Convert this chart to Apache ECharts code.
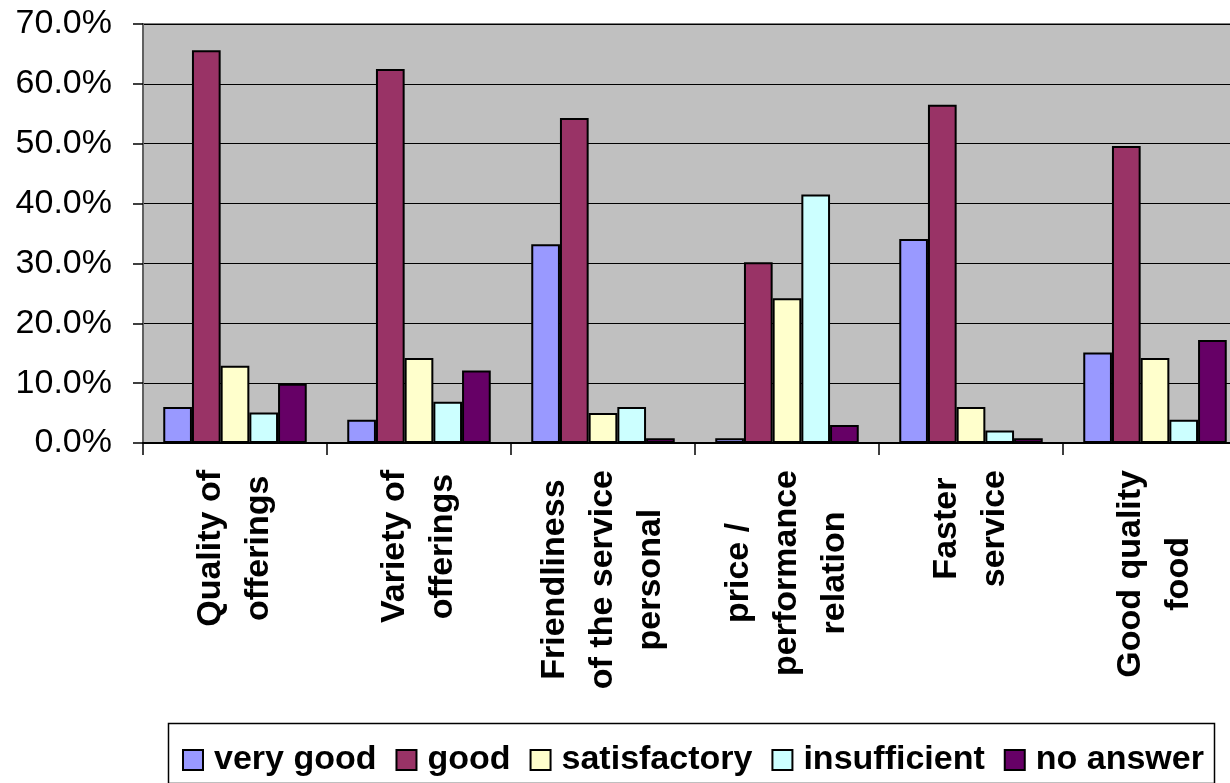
<!DOCTYPE html>
<html>
<head>
<meta charset="utf-8">
<title>Ratings by aspect</title>
<script src="https://cdn.jsdelivr.net/npm/echarts@6/dist/echarts.min.js"></script>
<style>
  html, body { margin: 0; padding: 0; background: #fff; }
  #chart { width: 1230px; height: 783px; }
</style>
</head>
<body>
<div id="chart"></div>
<script>
// Survey aspects (x axis)
const categories = [
  'Quality of\nofferings',
  'Variety of\nofferings',
  'Friendliness\nof the service\npersonal',
  'price /\nperformance\nrelation',
  'Faster\nservice',
  'Good quality\nfood'
];

// Share of answers per rating, in percent
const veryGood     = [6.0, 3.9, 33.2, 0.8, 34.1, 15.1];
const good         = [65.6, 62.5, 54.3, 30.2, 56.5, 49.6];
const satisfactory = [12.9, 14.2, 5.0, 24.2, 6.0, 14.2];
const insufficient = [5.1, 6.9, 6.0, 41.5, 2.1, 3.9];
const noAnswer     = [9.9, 12.1, 0.8, 3.0, 0.8, 17.2];

const seriesNames  = ['very good', 'good', 'satisfactory', 'insufficient', 'no answer'];
const seriesValues = [veryGood, good, satisfactory, insufficient, noAnswer];
const seriesColors = ['#9999FF', '#993366', '#FFFFCC', '#CCFFFF', '#660066'];

// Value axis range
const yMin = 0, yMax = 70, yStep = 10;

const FONT = '"Liberation Sans", Arial, Helvetica, sans-serif';

const chart = echarts.init(document.getElementById('chart'), null, { renderer: 'canvas' });

chart.setOption({
  backgroundColor: '#ffffff',
  animation: false,
  textStyle: { fontFamily: FONT, color: '#000' },
  grid: {
    left: 143,
    top: 24,
    width: 1104,
    height: 419,
    outerBoundsMode: 'none',
    containLabel: false,
    show: true,
    backgroundColor: '#C0C0C0',
    borderColor: '#808080',
    borderWidth: 2
  },
  legend: {
    data: seriesNames,
    left: 182,
    top: 743,
    orient: 'horizontal',
    icon: 'rect',
    itemWidth: 20,
    itemHeight: 20,
    itemGap: 19,
    padding: 0,
    itemStyle: { borderColor: '#000', borderWidth: 2 },
    textStyle: {
      fontFamily: FONT,
      fontSize: 34,
      fontWeight: 'bold',
      color: '#000',
      padding: [0, 0, 0, 6]
    }
  },
  graphic: [{
    type: 'rect',
    z: -1,
    shape: { x: 168.5, y: 723.5, width: 1046, height: 60 },
    style: { fill: '#fff', stroke: '#000', lineWidth: 1.5 }
  }],
  xAxis: {
    type: 'category',
    data: categories,
    boundaryGap: true,
    axisLine: { show: true, lineStyle: { color: '#000', width: 2 } },
    axisTick: { show: true, interval: 0, length: 12, lineStyle: { color: '#000', width: 1.5 } },
    splitLine: { show: false },
    axisLabel: {
      interval: 0,
      rotate: 90,
      margin: 27,
      formatter: function (v) {
        return v.split('\n').map(function (s) { return '{c|' + s + '}'; }).join('\n');
      },
      rich: {
        c: {
          align: 'center',
          fontFamily: FONT,
          fontSize: 34,
          fontWeight: 'bold',
          lineHeight: 48,
          color: '#000'
        }
      }
    }
  },
  yAxis: {
    type: 'value',
    min: yMin,
    max: yMax,
    interval: yStep,
    axisLine: { show: true, lineStyle: { color: '#606060', width: 2 } },
    axisTick: { show: true, length: 10, lineStyle: { color: '#000', width: 1.5 } },
    splitLine: { show: true, lineStyle: { color: '#000', width: 1.2 } },
    axisLabel: {
      margin: 31,
      fontFamily: FONT,
      fontSize: 34,
      color: '#000',
      formatter: function (v) { return v.toFixed(1) + '%'; }
    }
  },
  series: seriesNames.map(function (name, i) {
    return {
      name: name,
      type: 'bar',
      data: seriesValues[i],
      barWidth: 28.7,
      barGap: '0%',
      itemStyle: {
        color: seriesColors[i],
        borderColor: '#000',
        borderWidth: 2
      }
    };
  })
});
</script>
</body>
</html>
